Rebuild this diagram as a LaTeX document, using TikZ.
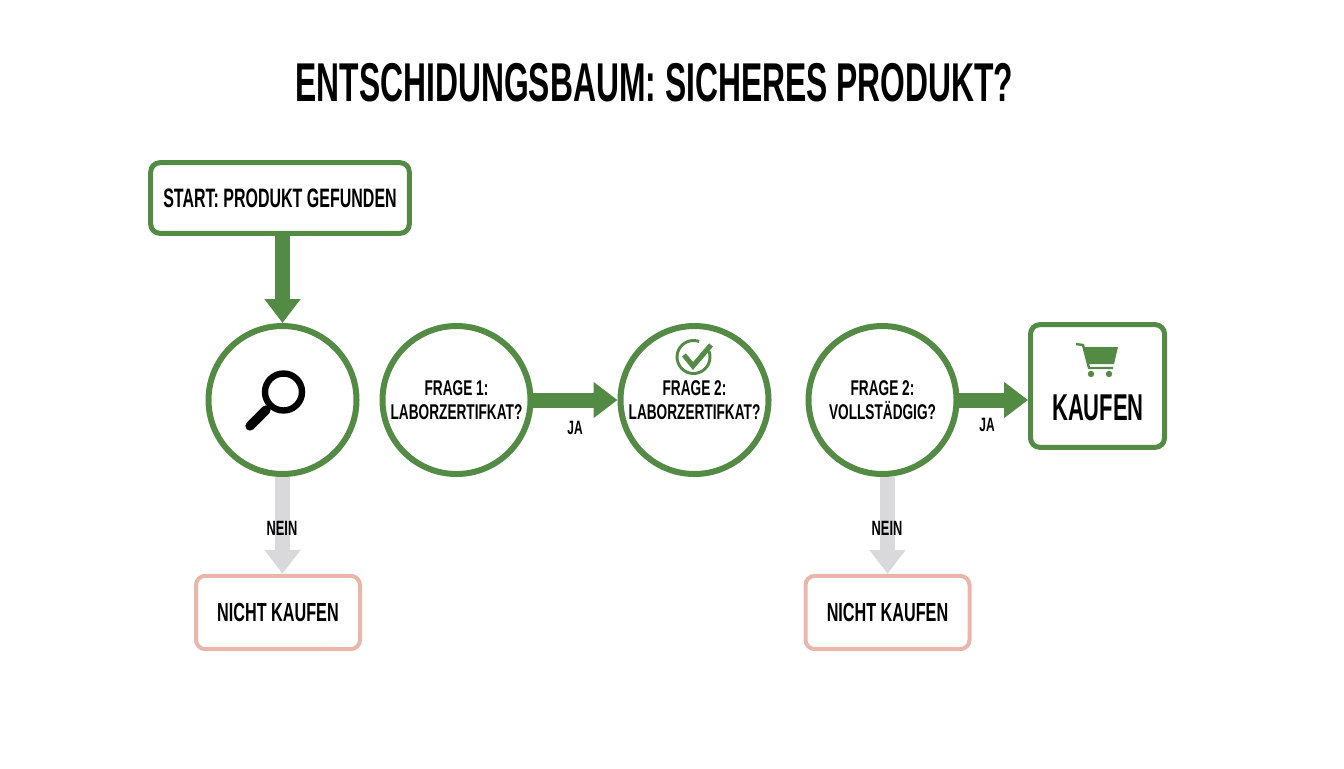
\documentclass[tikz,border=0pt]{standalone}
\usepackage{fontspec}
\setmainfont[FakeStretch=0.62]{Liberation Sans}
\newfontfamily\titlef[FakeStretch=0.582]{Liberation Sans}
\newfontfamily\startf[FakeStretch=0.60]{Liberation Sans}
\newfontfamily\questf[FakeStretch=0.64]{Liberation Sans}
\newfontfamily\buyf[FakeStretch=0.59]{Liberation Sans}
\usetikzlibrary{arrows.meta}
\definecolor{grn}{HTML}{538A44}
\definecolor{gry}{HTML}{D9D9DC}
\definecolor{pnk}{HTML}{E9B6AC}
\tikzset{
  x=0.75pt,y=-0.75pt,
  lbl/.style={inner sep=0pt,font=\bfseries,text=black,align=center},
  boxg/.style={draw=grn,line width=3.75pt,rounded corners=7pt,fill=white,inner sep=0pt,lbl},
  boxp/.style={draw=pnk,line width=3pt,rounded corners=7pt,fill=white,inner sep=0pt,minimum width=123pt,minimum height=55pt,lbl},
  circ/.style={draw=grn,line width=4.5pt,circle,fill=white,inner sep=0pt,minimum size=111pt,lbl},
  fatg/.style={draw=grn,line width=11.25pt,shorten <=-1.5pt,-{Triangle[length=18pt,width=26pt]}},
  fatgry/.style={draw=gry,line width=11.25pt,shorten <=-0.3pt,-{Triangle[length=18pt,width=26pt]}},
  qtext/.style={font=\questf\bfseries\fontsize{16}{17.5}\selectfont},
  nktext/.style={font=\bfseries\fontsize{19.6}{21}\selectfont},
  small/.style={lbl,font=\bfseries\fontsize{15.5}{17}\selectfont},
  smallja/.style={lbl,font=\bfseries\fontsize{14.5}{16}\selectfont},
}
\begin{document}
\begin{tikzpicture}
\useasboundingbox[fill=white] (0,0) rectangle (1344,768);
\node[lbl,font=\titlef\bfseries\fontsize{41}{45}\selectfont] (title) at (654.5,83) {ENTSCHIDUNGSBAUM: SICHERES PRODUKT?};
\node[boxg,minimum width=194pt,minimum height=53pt,font=\startf\bfseries\fontsize{20}{22}\selectfont] (start) at (280,198) {START: PRODUKT GEFUNDEN};
\node[circ] (c1) at (282.5,400) {};
\node[circ,qtext] (c2) at (456.5,400) {FRAGE 1:\\LABORZERTIFKAT?};
\node[circ,qtext] (c3) at (694.5,400) {FRAGE 2:\\LABORZERTIFKAT?};
\node[circ,qtext] (c4) at (882.5,400) {FRAGE 2:\\VOLLSTÄDGIG?};
\node[boxg,minimum width=100.5pt,minimum height=92pt] (buy) at (1097.5,386) {};
\node[lbl,font=\buyf\bfseries\fontsize{28}{30}\selectfont] (buytxt) at (1098,408) {KAUFEN};
\node[boxp,nktext] (nk1) at (278,612.5) {NICHT KAUFEN};
\node[boxp,nktext] (nk2) at (887.5,612.5) {NICHT KAUFEN};
% connectors
\draw[fatg] (start.south -| c1.north) -- (c1.north);
\draw[fatg] (c2.east) -- (c3.west);
\draw[fatg] (c4.east) -- (c4.east -| buy.west);
\draw[fatgry] (c1.south) -- (c1.south |- nk1.north);
\draw[fatgry] (nk2.north |- c4.south) -- (nk2.north);
\node[smallja] (ja1) at (575,428) {JA};
\node[smallja] (ja2) at (987,425) {JA};
\node[small] (ne1) at (282,528) {NEIN};
\node[small] (ne2) at (887,528) {NEIN};
% magnifier
\draw[black,line width=4.8pt] (283.5,392) circle (18.5);
\draw[black,line width=2.6pt] (270,406) -- (264,412);
\draw[black,line width=7pt,line cap=round] (266,410) -- (250,426);
% check icon
\draw[grn,line width=2.2pt] (693.5,357) ++(-20:16.5) arc (-20:290:16.5);
\draw[grn,line width=3.8pt] (684,355) -- (693,366) -- (711,345);
% cart
\draw[grn,line width=1.8pt] (1076,344) -- (1083,345) -- (1089,368) -- (1113,368);
\fill[grn] (1083,347) -- (1118,347) -- (1114,364) -- (1088,364) -- cycle;
\fill[grn] (1091,374) circle (3.2) (1109,374) circle (3.2);
\end{tikzpicture}
\end{document}
